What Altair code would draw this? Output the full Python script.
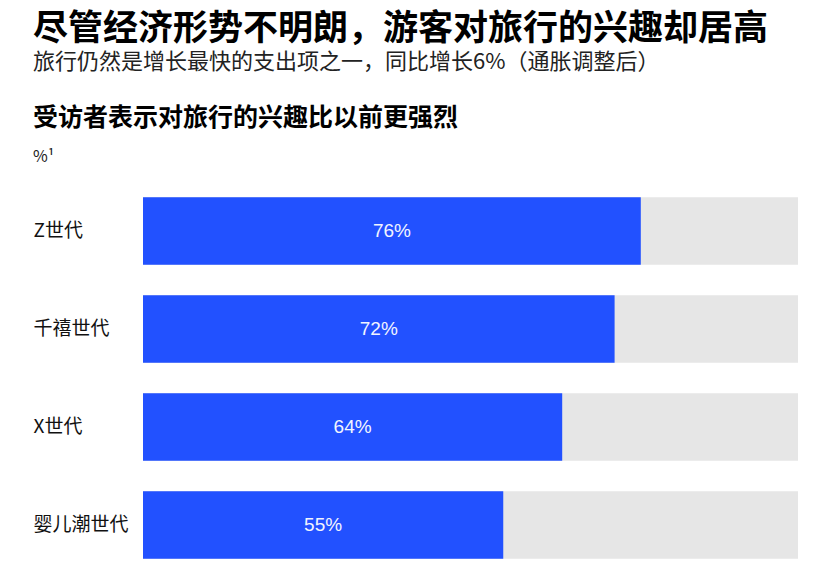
import altair as alt
import pandas as pd

categories = ["Z世代", "千禧世代", "X世代", "婴儿潮世代"]
values = [76, 72, 64, 55]
totals = [100, 100, 100, 100]

title_text = "尽管经济形势不明朗，游客对旅行的兴趣却居高"
subtitle_text = "旅行仍然是增长最快的支出项之一，同比增长6%（通胀调整后）"
section_text = "受访者表示对旅行的兴趣比以前更强烈"
unit_text = "%¹"

df = pd.DataFrame({"cat": categories, "value": values, "total": totals})
df["label"] = df["value"].astype(str) + "%"

FONT = "Noto Sans CJK SC"
BLUE = "#2251FF"
GRAY = "#E6E6E6"

y_enc = alt.Y(
    "cat:N",
    sort=categories,
    scale=alt.Scale(paddingInner=0.31, paddingOuter=0.155),
    axis=alt.Axis(
        title=None, domain=False, ticks=False, tickSize=0, grid=False,
        labelAlign="left", labelPadding=110, labelFontSize=19,
        labelFont=FONT, labelColor="#111111", labelBaseline="middle",
    ),
)
x_scale = alt.Scale(domain=[0, 100])

bg = alt.Chart(df).mark_bar(color=GRAY).encode(
    x=alt.X("total:Q", scale=x_scale, axis=None), y=y_enc
)
fg = alt.Chart(df).mark_bar(color=BLUE).encode(
    x=alt.X("value:Q", scale=x_scale, axis=None), y=y_enc
)
lbl = alt.Chart(df).transform_calculate(mid="datum.value / 2").mark_text(
    color="#F2F5FF", fontSize=19, font="Liberation Sans", baseline="middle", align="center"
).encode(
    x=alt.X("mid:Q", scale=x_scale, axis=None), y=y_enc, text="label:N"
)

def annot(text, y, size, weight, color):
    return alt.Chart(alt.Data(values=[{}])).mark_text(
        align="left", baseline="middle", fontSize=size, fontWeight=weight,
        font=FONT, color=color,
    ).encode(x=alt.value(-110), y=alt.value(y), text=alt.value(text))

t1 = annot(title_text, -153, 35, "bold", "#000000")
t2 = annot(subtitle_text, -120, 22, "normal", "#222222")
t3 = annot(section_text, -64, 25, "bold", "#000000")
t4 = annot(unit_text, -25, 16, "normal", "#222222")

chart = alt.layer(bg, fg, lbl, t1, t2, t3, t4).properties(
    width=655, height=392,
    autosize=alt.AutoSizeParams(type="none"),
    padding={"left": 135, "top": 174, "right": 21, "bottom": 7},
    background="white",
).configure_view(stroke=None)

chart.save("out.html", embed_options={"renderer": "svg", "actions": False})
